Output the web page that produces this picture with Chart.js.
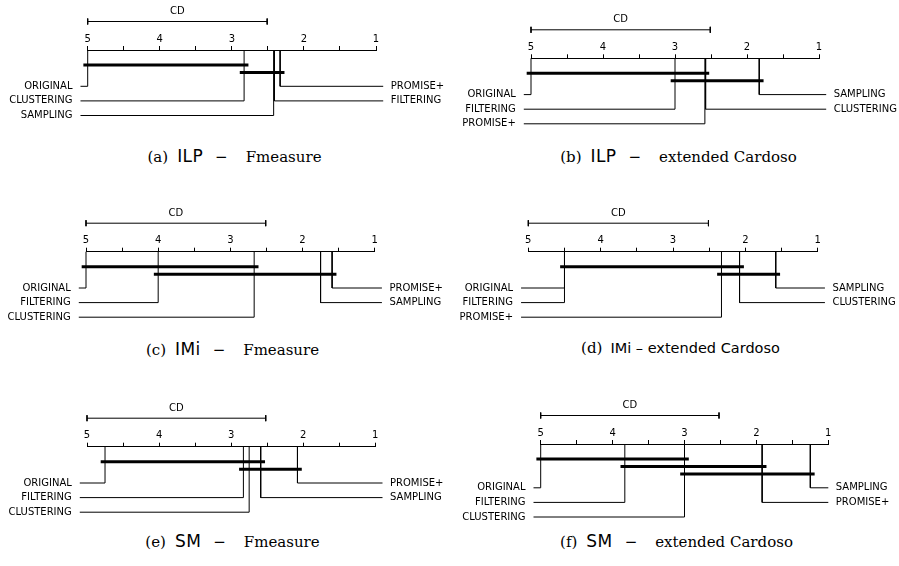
<!DOCTYPE html>
<html>
<head>
<meta charset="utf-8">
<script src="https://cdn.jsdelivr.net/npm/chart.js@4.4.1/dist/chart.umd.min.js"></script>
<style>
  body { margin: 0; background: #fff; }
  #wrap { position: relative; width: 899px; height: 566px; overflow: hidden; }
  .panel { position: absolute; }
  .cap { position: absolute; width: 449px; text-align: center; font-family: "DejaVu Serif", serif; font-size: 15px; color: #000; white-space: nowrap; }
  .ss { font-family: "DejaVu Sans", sans-serif; font-size: 17px; letter-spacing: 0.4px; margin-left: 9px; }
  .mn { margin: 0 18px 0 12px; }
  .fm { font-size: 15px; }
  .ssd { font-family: "DejaVu Sans", sans-serif; font-size: 14.5px; margin-left: 8px; }
</style>
</head>
<body>
<div id="wrap">
  <div class="panel" style="left:0;top:0"><canvas id="cdA" width="449" height="145"></canvas></div>
  <div class="panel" style="left:449px;top:0"><canvas id="cdB" width="450" height="145"></canvas></div>
  <div class="panel" style="left:0;top:190px"><canvas id="cdC" width="449" height="145"></canvas></div>
  <div class="panel" style="left:449px;top:190px"><canvas id="cdD" width="450" height="145"></canvas></div>
  <div class="panel" style="left:0;top:380px"><canvas id="cdE" width="449" height="150"></canvas></div>
  <div class="panel" style="left:449px;top:380px"><canvas id="cdF" width="450" height="150"></canvas></div>

  <div class="cap" style="left:10px;top:146px">(a)<span class="ss">ILP</span><span class="mn">−</span><span class="fm">Fmeasure</span></div>
  <div class="cap" style="left:454px;top:146px">(b)<span class="ss">ILP</span><span class="mn">−</span><span class="fm">extended Cardoso</span></div>
  <div class="cap" style="left:8px;top:339px">(c)<span class="ss">IMi</span><span class="mn">−</span><span class="fm">Fmeasure</span></div>
  <div class="cap" style="left:456px;top:339px">(d)<span class="ssd">IMi – extended Cardoso</span></div>
  <div class="cap" style="left:8px;top:531px">(e)<span class="ss">SM</span><span class="mn">−</span><span class="fm">Fmeasure</span></div>
  <div class="cap" style="left:452px;top:531px">(f)<span class="ss">SM</span><span class="mn">−</span><span class="fm">extended Cardoso</span></div>
</div>
<script>
// dados
const methods = ['ORIGINAL', 'FILTERING', 'CLUSTERING', 'SAMPLING', 'PROMISE+'];
const axisTicks = [5, 4.5, 4, 3.5, 3, 2.5, 2, 1.5, 1];

// average ranks, same order as methods
const ranksA = [5.00, 2.41, 2.83, 2.42, 2.33];
const ranksB = [5.00, 3.00, 2.575, 1.83, 2.585];
const ranksC = [5.00, 4.00, 2.67, 1.75, 1.59];
const ranksD = [4.50, 4.50, 2.08, 1.58, 2.33];
const ranksE = [4.75, 2.83, 2.75, 2.59, 2.08];
const ranksF = [5.00, 3.83, 3.00, 1.25, 1.92];

// critical difference
const cdA = 2.49, cdB = 2.49, cdC = 2.49, cdD = 2.49, cdE = 2.48, cdF = 2.48;

// groups with no significant difference
const cliquesA = [['ORIGINAL', 'CLUSTERING'], ['CLUSTERING', 'PROMISE+']];
const cliquesB = [['ORIGINAL', 'PROMISE+'], ['FILTERING', 'SAMPLING']];
const cliquesC = [['ORIGINAL', 'CLUSTERING'], ['FILTERING', 'PROMISE+']];
const cliquesD = [['ORIGINAL', 'CLUSTERING'], ['PROMISE+', 'SAMPLING']];
const cliquesE = [['ORIGINAL', 'SAMPLING'], ['FILTERING', 'PROMISE+']];
const cliquesF = [['ORIGINAL', 'CLUSTERING'], ['FILTERING', 'PROMISE+'], ['CLUSTERING', 'SAMPLING']];

const font = '"DejaVu Sans", sans-serif';
const AXIS_H = 20;

function cdDiagram(id, ranks, cd, cliques, lay) {
    const canvas = document.getElementById(id);
    const W = canvas.width, H = canvas.height;
    const rankOf = name => ranks[methods.indexOf(name)];
    const extL = 5.1, extR = lay.extR;

    // worst ranks on the left, best on the right
    const order = methods.map((m, i) => ({ name: m, rank: ranks[i] }))
        .sort((a, b) => b.rank - a.rank);
    const nLeft = Math.ceil(order.length / 2);
    const left = order.slice(0, nLeft);
    const right = order.slice(nLeft).reverse();

    const barY = j => 15 + 7.5 * j;
    const row0 = barY(cliques.length - 1) + 13.8;
    const rowY = i => row0 + 14.6 * i;

    const line = (data, width) => ({
        data: data, borderColor: '#000', borderWidth: width,
        pointRadius: 0, clip: false, tension: 0
    });

    const datasets = [];
    // CD bar with end marks
    datasets.push(line([{ x: 5, y: -28.5 }, { x: 5 - cd, y: -28.5 }], 1));
    datasets.push(line([{ x: 5, y: -31.5 }, { x: 5, y: -25.5 }], 1));
    datasets.push(line([{ x: 5 - cd, y: -31.5 }, { x: 5 - cd, y: -25.5 }], 1));
    // cliques
    cliques.forEach((c, j) => {
        const a = rankOf(c[0]), b = rankOf(c[1]);
        datasets.push(line([
            { x: Math.max(a, b) + 0.06, y: barY(j) },
            { x: Math.min(a, b) - 0.06, y: barY(j) }
        ], 3));
    });
    // method lines
    left.forEach((m, i) => datasets.push(line([
        { x: extL, y: rowY(i) }, { x: m.rank, y: rowY(i) }, { x: m.rank, y: 0 }
    ], 1)));
    right.forEach((m, i) => datasets.push(line([
        { x: m.rank, y: 0 }, { x: m.rank, y: rowY(i) }, { x: extR, y: rowY(i) }
    ], 1)));

    const textPlugin = {
        id: 'cdText',
        afterDatasetsDraw(chart) {
            const { ctx, scales: { x, y } } = chart;
            ctx.save();
            ctx.fillStyle = '#000';
            ctx.textBaseline = 'middle';
            ctx.textAlign = 'center';
            ctx.font = '10px ' + font;
            ctx.fillText('CD', x.getPixelForValue(5 - cd / 2), y.getPixelForValue(-38.5));
            ctx.textAlign = 'right';
            left.forEach((m, i) => ctx.fillText(m.name, x.getPixelForValue(extL) - 8, y.getPixelForValue(rowY(i))));
            ctx.textAlign = 'left';
            right.forEach((m, i) => ctx.fillText(m.name, x.getPixelForValue(extR) + 7.5, y.getPixelForValue(rowY(i))));
            ctx.restore();
        }
    };

    const axisY = lay.axisY;
    const chart = new Chart(canvas, {
        type: 'line',
        data: { datasets: datasets },
        plugins: [textPlugin],
        options: {
            responsive: false,
            animation: false,
            events: [],
            layout: { padding: { left: lay.x5, right: W - lay.x1, top: axisY - AXIS_H, bottom: 0 } },
            plugins: { legend: { display: false }, tooltip: { enabled: false } },
            scales: {
                x: {
                    type: 'linear', position: 'top', reverse: true, min: 1, max: 5,
                    afterFit: s => { s.height = AXIS_H; },
                    afterBuildTicks: s => { s.ticks = axisTicks.map(v => ({ value: v })); },
                    border: { display: true, color: '#000', width: 1 },
                    grid: { drawOnChartArea: false, drawTicks: true, tickLength: 4, color: '#000', lineWidth: 1 },
                    ticks: {
                        autoSkip: false, maxRotation: 0, padding: 1, color: '#000',
                        font: { family: 'DejaVu Sans', size: 10 },
                        callback: v => Number.isInteger(v) ? String(v) : ''
                    }
                },
                y: { type: 'linear', display: false, reverse: true, min: 0, max: H - axisY }
            }
        }
    });

    // pin the axis line and keep 1 unit = 1 px below it
    chart.options.layout.padding.top += axisY - chart.chartArea.top;
    chart.update();
    chart.options.scales.y.max = chart.chartArea.bottom - chart.chartArea.top;
    chart.update();
}

// layout: pixel of rank 5, pixel of rank 1, axis line (inside each canvas), right end of label lines
cdDiagram('cdA', ranksA, cdA, cliquesA, { x5: 87.7, x1: 376, axisY: 50, extR: 0.9 });
cdDiagram('cdB', ranksB, cdB, cliquesB, { x5: 82, x1: 370, axisY: 58.3, extR: 0.9 });
cdDiagram('cdC', ranksC, cdC, cliquesC, { x5: 86, x1: 374.7, axisY: 61.7, extR: 0.9 });
cdDiagram('cdD', ranksD, cdD, cliquesD, { x5: 79.3, x1: 368.7, axisY: 61.7, extR: 0.9 });
cdDiagram('cdE', ranksE, cdE, cliquesE, { x5: 87, x1: 375.3, axisY: 66.7, extR: 0.9 });
cdDiagram('cdF', ranksF, cdF, cliquesF, { x5: 91.7, x1: 379.3, axisY: 64, extR: 1.0 });
</script>
</body>
</html>
